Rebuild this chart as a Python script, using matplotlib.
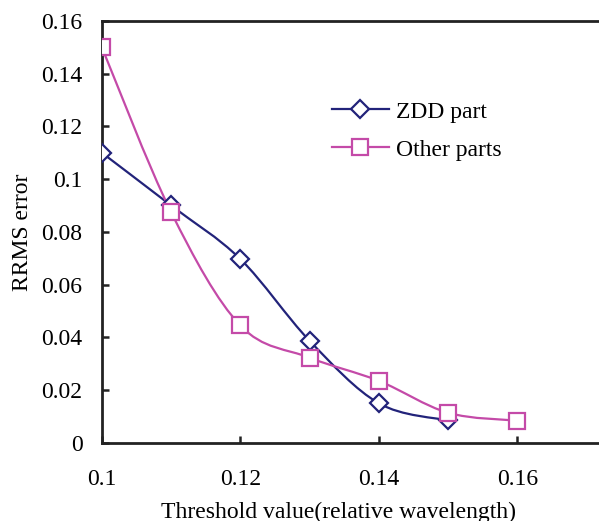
import numpy as np
import matplotlib.pyplot as plt
from matplotlib.path import Path
from matplotlib.patches import PathPatch

plt.rcParams['font.family'] = ['Liberation Serif', 'DejaVu Serif']

# data
zdd_x = [0.10, 0.11, 0.12, 0.13, 0.14, 0.15]
zdd_y = [0.110, 0.090, 0.0697, 0.0387, 0.0150, 0.0085]
other_x = [0.10, 0.11, 0.12, 0.13, 0.14, 0.15, 0.16]
other_y = [0.150, 0.0875, 0.0445, 0.0323, 0.0235, 0.0114, 0.0084]

x_ticks = [0.10, 0.12, 0.14, 0.16]
x_labels = ['0.1', '0.12', '0.14', '0.16']
y_ticks = [0, 0.02, 0.04, 0.06, 0.08, 0.10, 0.12, 0.14, 0.16]
y_labels = ['0', '0.02', '0.04', '0.06', '0.08', '0.1', '0.12', '0.14', '0.16']


def smooth_path(xs, ys):
    # Excel-like smoothed line: Catmull-Rom style bezier through the points
    p = np.column_stack([xs, ys])
    n = len(p)
    verts = [p[0]]
    codes = [Path.MOVETO]
    for i in range(n - 1):
        p0 = p[i - 1] if i > 0 else p[i]
        p3 = p[i + 2] if i + 2 < n else p[i + 1]
        c1 = p[i] + (p[i + 1] - p0) / 6
        c2 = p[i + 1] - (p3 - p[i]) / 6
        verts += [c1, c2, p[i + 1]]
        codes += [Path.CURVE4] * 3
    return Path(verts, codes)


fig = plt.figure(figsize=(5.99, 5.21), dpi=100)
ax = fig.add_axes([0.170, 0.150, 0.830, 0.810])

navy = '#22237a'
pink = '#c44aa8'
fs = 17

for xs, ys, c, m, ms, lab in [(zdd_x, zdd_y, navy, 'D', 9, 'ZDD part'),
                              (other_x, other_y, pink, 's', 11, 'Other parts')]:
    ax.add_patch(PathPatch(smooth_path(xs, ys), fill=False, edgecolor=c, lw=1.6, zorder=2))
    ax.plot(xs, ys, ls='none', marker=m, ms=ms, mfc='white', mec=c, mew=1.6, zorder=3)
    ax.plot([], [], color=c, lw=1.6, marker=m, ms=ms, mfc='white', mec=c, mew=1.6, label=lab)

ax.set_xlim(0.1, 0.1718)
ax.set_ylim(0, 0.16)
ax.set_xticks(x_ticks)
ax.set_xticklabels(x_labels)
ax.set_yticks(y_ticks)
ax.set_yticklabels(y_labels)
ax.tick_params(direction='in', length=5, width=1.8, labelsize=fs, color='#222222')
ax.tick_params(axis='x', pad=19)
ax.tick_params(axis='y', pad=14)
ax.spines['right'].set_visible(False)
for s in ['left', 'bottom', 'top']:
    ax.spines[s].set_linewidth(2)
    ax.spines[s].set_color('#222222')

ax.set_xlabel('Threshold value(relative wavelength)', fontsize=fs, labelpad=8, x=0.476)
ax.set_ylabel('RRMS error', fontsize=fs, labelpad=6)

ax.legend(loc='upper left', bbox_to_anchor=(0.42, 0.86), frameon=False,
          fontsize=fs, handlelength=2.4, labelspacing=0.7, handletextpad=0.3)

fig.savefig('out.png')
